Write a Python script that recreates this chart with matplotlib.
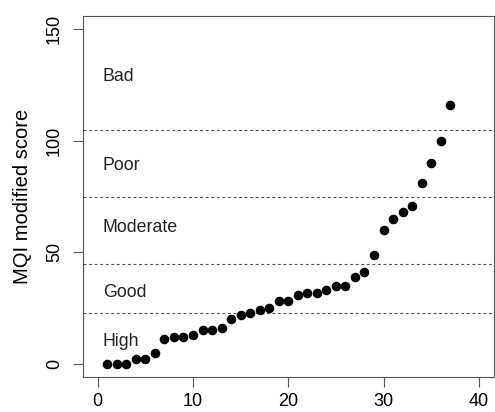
import matplotlib
matplotlib.use("Agg")
import matplotlib.pyplot as plt

plt.rcParams['font.family'] = ['Liberation Sans', 'DejaVu Sans']

idx = list(range(1, 38))
scores = [0, 0, 0, 2, 2, 5, 11, 12, 12, 13, 15, 15, 16, 20, 22, 23, 24, 25,
          28, 28, 31, 32, 32, 33, 35, 35, 39, 41, 49, 60, 65, 68, 71, 81, 90,
          100, 116]
thresholds = [23, 45, 75, 105]
class_labels = ["High", "Good", "Moderate", "Poor", "Bad"]
label_y = [8, 30, 59, 87, 127]
xticks = [0, 10, 20, 30, 40]
yticks = [0, 50, 100, 150]

fig = plt.figure(figsize=(4.95, 4.12), dpi=100)
ax = fig.add_axes([0.1667, 0.0842, 0.8313, 0.8770])

ax.plot(idx, scores, 'o', color='black', markersize=5.9, zorder=3)
for t in thresholds:
    ax.axhline(t, color='#555555', lw=0.8, dashes=(2.6, 2.4))
for lab, yy in zip(class_labels, label_y):
    ax.text(0.55, yy, lab, ha='left', va='baseline', fontsize=12.8, color='#222222')

ax.set_xlim(-1.6, 41.6)
ax.set_ylim(-6, 156)
ax.set_xticks(xticks)
ax.set_yticks(yticks)
ax.set_yticklabels([str(v) for v in yticks], rotation=90, va='center')
ax.tick_params(axis='both', length=7, width=0.8, color='#555555', labelsize=13)
ax.tick_params(axis='x', pad=4)
ax.tick_params(axis='y', pad=7)
ax.set_ylabel("MQI modified score", fontsize=14.5, labelpad=10)
for s in ax.spines.values():
    s.set_color('#555555')
    s.set_linewidth(0.8)

fig.savefig("out.png", dpi=100)
